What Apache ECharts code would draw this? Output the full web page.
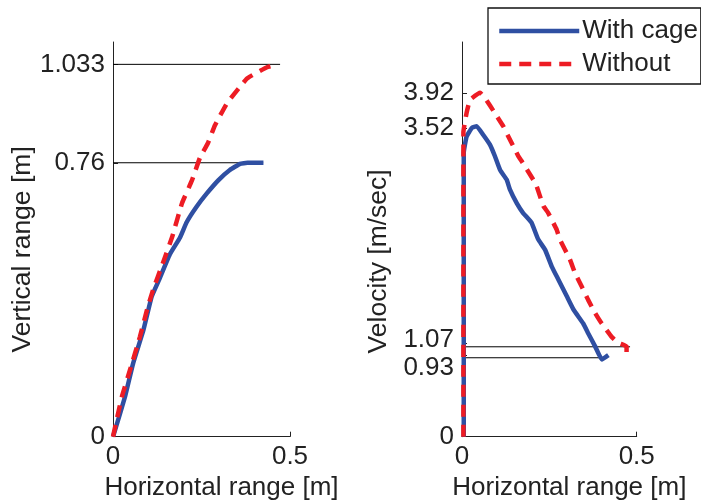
<!DOCTYPE html>
<html><head><meta charset="utf-8">
<script src="https://cdn.jsdelivr.net/npm/echarts@6/dist/echarts.min.js"></script>
<style>html,body{margin:0;padding:0;background:#fff}#c{width:701px;height:502px}</style>
</head><body><div id="c"></div>
<script>
// ---- data ----
const seriesNames = ['With cage', 'Without'];
const xTicks = [0, 0.5];
const leftYTicks = [0, 0.76, 1.033];
const rightYTicks = [0, 0.93, 1.07, 3.52, 3.92];
const xTitle = 'Horizontal range [m]';
const leftYTitle = 'Vertical range [m]';
const rightYTitle = 'Velocity [m/sec]';

// Left panel: vertical range vs horizontal range
const leftCageX = [0, 0.006, 0.034, 0.057, 0.086, 0.109, 0.130, 0.160, 0.189, 0.208, 0.236, 0.265, 0.298, 0.330, 0.359, 0.380, 0.425];
const leftCageY = [0, 0.019, 0.111, 0.204, 0.296, 0.388, 0.435, 0.505, 0.552, 0.595, 0.638, 0.675, 0.712, 0.740, 0.757, 0.760, 0.760];
const leftWithoutX = [0, 0.025, 0.048, 0.076, 0.096, 0.113, 0.141, 0.167, 0.195, 0.223, 0.246, 0.268, 0.288, 0.322, 0.379, 0.435, 0.466];
const leftWithoutY = [0, 0.111, 0.185, 0.277, 0.352, 0.407, 0.482, 0.554, 0.648, 0.711, 0.775, 0.814, 0.864, 0.925, 0.994, 1.025, 1.033];

// Right panel: velocity vs horizontal range
const rightCageX = [0.005, 0.005, 0.013, 0.028, 0.042, 0.061, 0.080, 0.094, 0.109, 0.128, 0.137, 0.157, 0.175, 0.199, 0.218, 0.238, 0.257, 0.276, 0.300, 0.319, 0.347, 0.361, 0.381, 0.400, 0.419];
const rightCageY = [0, 3.24, 3.42, 3.52, 3.54, 3.44, 3.33, 3.20, 3.04, 2.93, 2.82, 2.66, 2.55, 2.44, 2.25, 2.13, 1.94, 1.79, 1.60, 1.45, 1.29, 1.18, 1.03, 0.88, 0.93];
const rightWithoutX = [0.004, 0.004, 0.013, 0.023, 0.052, 0.066, 0.094, 0.118, 0.133, 0.161, 0.171, 0.204, 0.214, 0.233, 0.247, 0.271, 0.280, 0.309, 0.323, 0.343, 0.361, 0.381, 0.400, 0.428, 0.447, 0.471, 0.471];
const rightWithoutY = [0, 3.47, 3.69, 3.84, 3.92, 3.86, 3.69, 3.54, 3.42, 3.20, 3.14, 2.93, 2.85, 2.63, 2.55, 2.36, 2.25, 2.02, 1.87, 1.71, 1.56, 1.41, 1.29, 1.14, 1.07, 1.03, 0.93];

// Horizontal reference lines (level, end x)
const leftRefY = [1.033, 0.76];
const leftRefEndX = [0.472, 0.424];
const rightRefY = [1.025, 0.90];
const rightRefEndX = [0.481, 0.400];

// ---- build ----
const zip = (xs, ys) => xs.map((x, i) => [x, ys[i]]);
const FONT = 'Liberation Sans, Arial, sans-serif';
const TXT = '#222';
const BLUE = '#2F4FA2';
const RED = '#ED1C24';

function xAxisCfg(gi) {
  return {
    type: 'value', gridIndex: gi, min: 0, max: 0.5,
    name: xTitle, nameLocation: 'middle', nameGap: 38,
    nameTextStyle: { fontFamily: FONT, fontSize: 26, color: TXT, padding: [0, 0, 0, 40] },
    axisLine: { show: true, lineStyle: { color: '#222', width: 1 } },
    axisTick: { show: true, inside: true, length: 5, customValues: xTicks, lineStyle: { color: '#222' } },
    axisLabel: { customValues: xTicks, fontFamily: FONT, fontSize: 26, color: TXT, margin: 7,
      formatter: v => String(v) },
    splitLine: { show: false }
  };
}
function yAxisCfg(gi, max, ticks, title, gap, shift, rich) {
  return {
    type: 'value', gridIndex: gi, min: 0, max: max,
    name: title, nameLocation: 'middle', nameGap: gap, nameRotate: 90,
    nameTextStyle: { fontFamily: FONT, fontSize: 26.5, color: TXT, padding: [0, shift, 0, 0] },
    axisLine: { show: true, lineStyle: { color: '#222', width: 1 } },
    axisTick: { show: true, inside: true, length: 5, customValues: ticks, lineStyle: { color: '#222' } },
    axisLabel: Object.assign({ customValues: ticks, fontFamily: FONT, fontSize: 26, color: TXT, margin: 8,
      formatter: v => String(v) }, rich || {}),
    splitLine: { show: false }
  };
}

const rightRich = {
  formatter: v => v === 0.93 ? '{lo|0.93}' : (v === 1.07 ? '{hi|1.07}' : String(v)),
  rich: {
    lo: { fontFamily: FONT, fontSize: 26, color: TXT, padding: [26, 0, 0, 0] },
    hi: { fontFamily: FONT, fontSize: 26, color: TXT, padding: [0, 0, 6, 0] }
  }
};

function refSeries(gi, ys, ends) {
  return ys.map((y, i) => ({
    type: 'line', xAxisIndex: gi, yAxisIndex: gi, silent: true, symbol: 'none',
    data: [[0, y], [ends[i], y]],
    lineStyle: { color: '#000', width: 1 }, z: 1
  }));
}
function curve(gi, name, xs, ys, color, dashed) {
  return {
    type: 'line', name: name, xAxisIndex: gi, yAxisIndex: gi, symbol: 'none', silent: true,
    data: zip(xs, ys), z: dashed ? 3 : 2, smooth: 0.1,
    lineStyle: { color: color, width: 4.5, type: dashed ? [12, 8] : 'solid', cap: 'butt', join: 'round' },
    itemStyle: { color: color }
  };
}

const option = {
  animation: false,
  backgroundColor: '#fff',
  textStyle: { fontFamily: FONT },
  grid: [
    { left: 113, top: 42, width: 177, bottom: 65.3, outerBoundsMode: 'none', containLabel: false },
    { left: 462, top: 42, width: 174.7, bottom: 65.3, outerBoundsMode: 'none', containLabel: false }
  ],
  legend: {
    data: seriesNames, orient: 'vertical', left: 488, top: 8,
    backgroundColor: '#fff', borderColor: '#111', borderWidth: 1.3,
    padding: [10, 3, 7, 9], itemWidth: 80, itemHeight: 26, itemGap: 7,
    itemStyle: { opacity: 0 },
    lineStyle: { width: 4.5 },
    textStyle: { fontFamily: FONT, fontSize: 26, color: TXT, padding: [0, 0, 0, -2] },
    selectedMode: false
  },
  xAxis: [xAxisCfg(0), xAxisCfg(1)],
  yAxis: [
    yAxisCfg(0, 1.095, leftYTicks, leftYTitle, 75, 20),
    yAxisCfg(1, 4.5, rightYTicks, rightYTitle, 70, 44, rightRich)
  ],
  series: [].concat(
    refSeries(0, leftRefY, leftRefEndX),
    refSeries(1, rightRefY, rightRefEndX),
    [
      curve(0, seriesNames[0], leftCageX, leftCageY, BLUE, false),
      curve(0, seriesNames[1], leftWithoutX, leftWithoutY, RED, true),
      curve(1, seriesNames[0], rightCageX, rightCageY, BLUE, false),
      curve(1, seriesNames[1], rightWithoutX, rightWithoutY, RED, true)
    ]
  )
};
const chart = echarts.init(document.getElementById('c'), null, { renderer: 'canvas' });
chart.setOption(option);
</script>
</body></html>
